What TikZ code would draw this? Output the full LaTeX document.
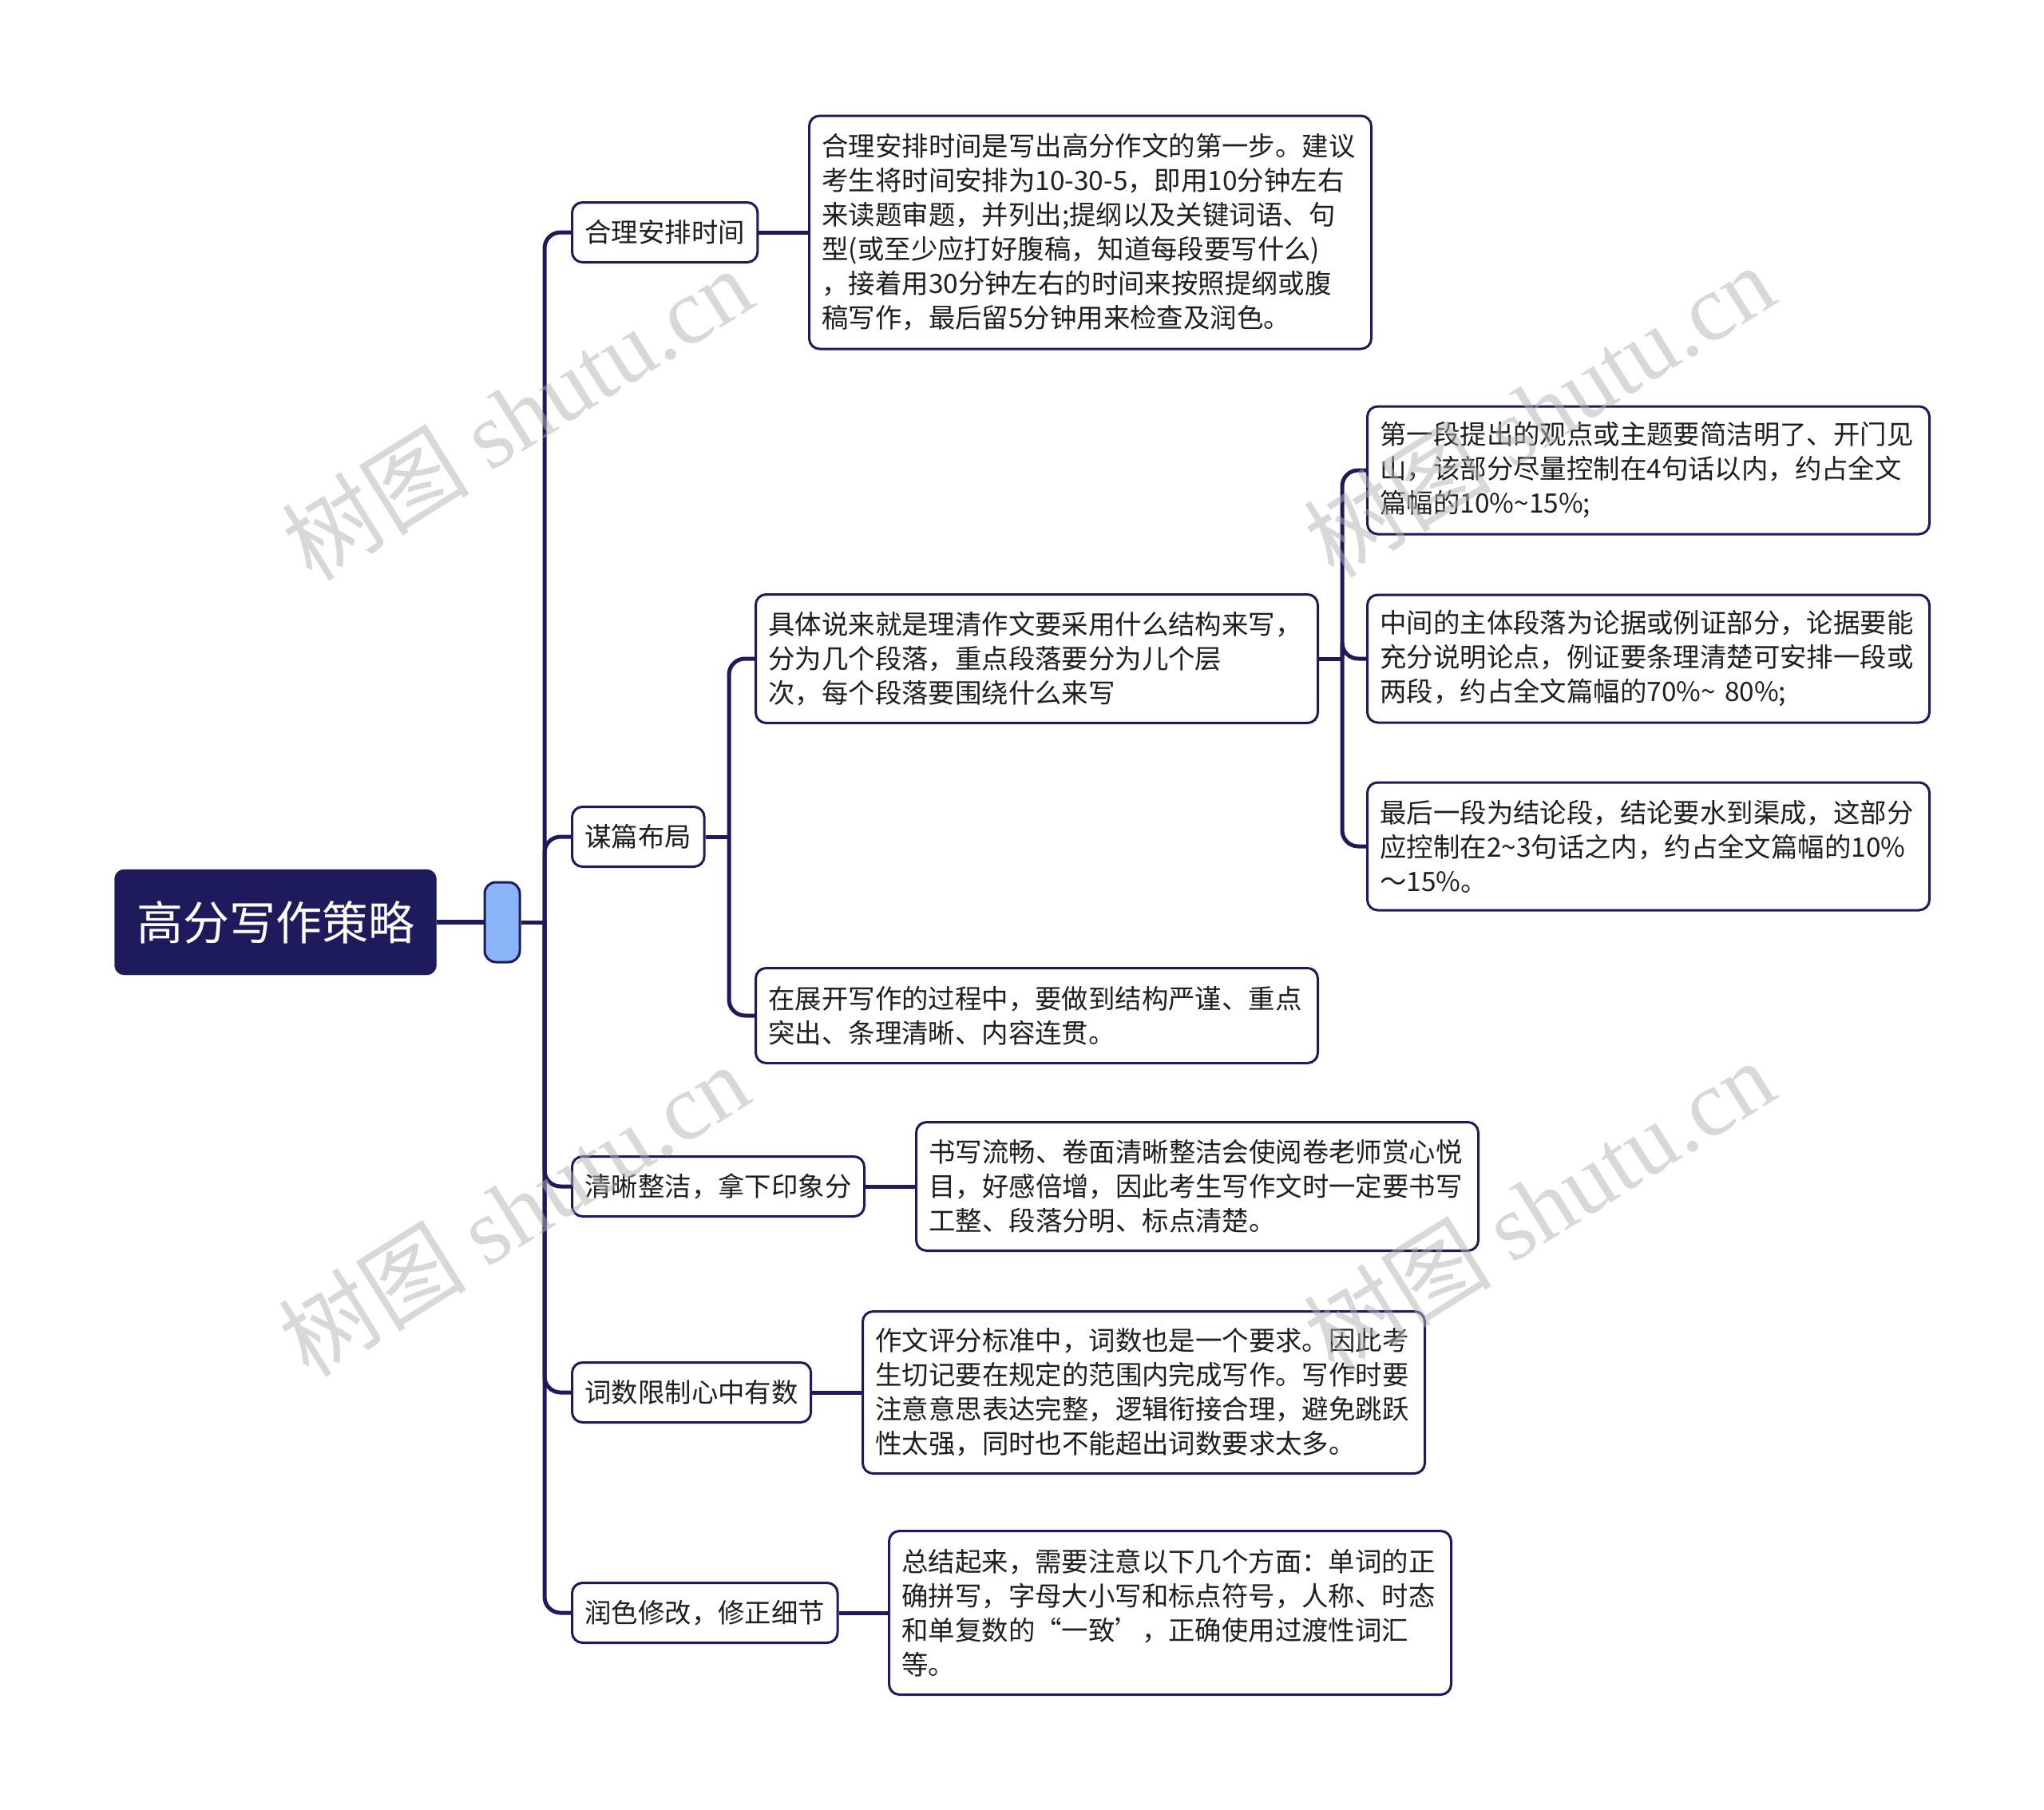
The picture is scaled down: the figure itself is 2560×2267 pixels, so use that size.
\documentclass[tikz,border=0pt]{standalone}
\usepackage{fontspec}
\newfontfamily\cjkfont{Noto Sans CJK SC}
\newfontfamily\wmserif{Liberation Serif}
\usetikzlibrary{positioning}
\definecolor{navy}{RGB}{30,27,92}
\definecolor{hubblue}{RGB}{138,180,248}
\definecolor{inkgray}{RGB}{30,30,30}

\begin{document}
\begin{tikzpicture}[
  x=1pt, y=-1pt,
  font=\cjkfont,
  link/.style={draw=navy, line width=5pt, rounded corners=20pt},
  box/.style={draw=navy, line width=3pt, fill=white, rounded corners=13pt,
    text=inkgray, font=\cjkfont\fontsize{33.4}{43}\selectfont},
  topic/.style={box, inner xsep=16pt, inner ysep=0pt, minimum height=75pt, anchor=west},
  detail/.style={box, text width=672pt, align=left, inner xsep=16pt, inner ysep=0pt, anchor=west},
  root/.style={fill=navy, draw=navy, rounded corners=12pt, text=white,
    font=\cjkfont\fontsize{58}{68}\selectfont, minimum width=403pt, minimum height=132pt},
  hub/.style={fill=hubblue, draw=navy, line width=3pt, rounded corners=14pt,
    minimum width=44pt, minimum height=100pt},
  wmark/.style={text=black!30, opacity=0.5, rotate=32,
    font=\cjkfont\fontsize{118}{118}\selectfont}
]
\path[use as bounding box] (0,0) rectangle (2560,2267);

\node[root] (root) at (345,1155) {高分写作策略};
\node[hub] (hub) at (629,1155) {};
\coordinate (trunk) at (682,1155);

% first level
\node[topic] (time) at (715,291) {合理安排时间};
\node[topic] (plan) at (715,1048) {谋篇布局};
\node[topic] (neat) at (715,1486) {清晰整洁，拿下印象分};
\node[topic] (count) at (715,1744) {词数限制心中有数};
\node[topic] (polish) at (715,2020) {润色修改，修正细节};

% details
\node[detail, minimum height=292pt] (timeD) at (1012,291) {合理安排时间是写出高分作文的第一步。建议\\
考生将时间安排为10-30-5，即用10分钟左右\\
来读题审题，并列出;提纲以及关键词语、句\\
型(或至少应打好腹稿，知道每段要写什么)\\
，接着用30分钟左右的时间来按照提纲或腹\\
稿写作，最后留5分钟用来检查及润色。};
\node[detail, minimum height=161pt] (planA) at (945,825) {具体说来就是理清作文要采用什么结构来写，\\
分为几个段落，重点段落要分为儿个层\\
次，每个段落要围绕什么来写};
\node[detail, minimum height=119pt] (planB) at (945,1272) {在展开写作的过程中，要做到结构严谨、重点\\
突出、条理清晰、内容连贯。};
\node[detail, minimum height=160pt] (paraA) at (1711,589) {第一段提出的观点或主题要简洁明了、开门见\\
山，该部分尽量控制在4句话以内，约占全文\\
篇幅的10\%\textasciitilde15\%;};
\node[detail, minimum height=160pt] (paraB) at (1711,825) {中间的主体段落为论据或例证部分，论据要能\\
充分说明论点，例证要条理清楚可安排一段或\\
两段，约占全文篇幅的70\%\textasciitilde{} 80\%;};
\node[detail, minimum height=160pt] (paraC) at (1711,1060) {最后一段为结论段，结论要水到渠成，这部分\\
应控制在2\textasciitilde3句话之内，约占全文篇幅的10\%\\
～15\%。};
\node[detail, minimum height=161pt] (neatD) at (1146,1486) {书写流畅、卷面清晰整洁会使阅卷老师赏心悦\\
目，好感倍增，因此考生写作文时一定要书写\\
工整、段落分明、标点清楚。};
\node[detail, minimum height=203pt] (countD) at (1079,1744) {作文评分标准中，词数也是一个要求。因此考\\
生切记要在规定的范围内完成写作。写作时要\\
注意意思表达完整，逻辑衔接合理，避免跳跃\\
性太强，同时也不能超出词数要求太多。};
\node[detail, minimum height=205pt] (polishD) at (1112,2020) {总结起来，需要注意以下几个方面：单词的正\\
确拼写，字母大小写和标点符号，人称、时态\\
和单复数的“一致’，正确使用过渡性词汇\\
等。};

% connectors
\draw[link, line width=6pt] (root.east) -- (hub.west);
\draw[link] (hub.east) -- (trunk);
\foreach \t in {time,plan,neat,count,polish}
  \draw[link] (trunk) |- (\t.west);

\draw[link] (time.east) -- (timeD.west);
\coordinate (planfork) at (913,1048);
\draw[link] (plan.east) -- (planfork);
\foreach \t in {planA,planB}
  \draw[link] (planfork) |- (\t.west);
\coordinate (parafork) at (1681,825);
\draw[link] (planA.east) -- (parafork);
\foreach \t in {paraA,paraB,paraC}
  \draw[link] (parafork) |- (\t.west);
\draw[link] (neat.east) -- (neatD.west);
\draw[link] (count.east) -- (countD.west);
\draw[link] (polish.east) -- (polishD.west);

% watermarks
\foreach \wx/\wy in {647/518, 643/1515, 1927/514, 1927/1510}
  \node[wmark] at (\wx,\wy) {树图 {\wmserif shutu.cn}};
\end{tikzpicture}
\end{document}
